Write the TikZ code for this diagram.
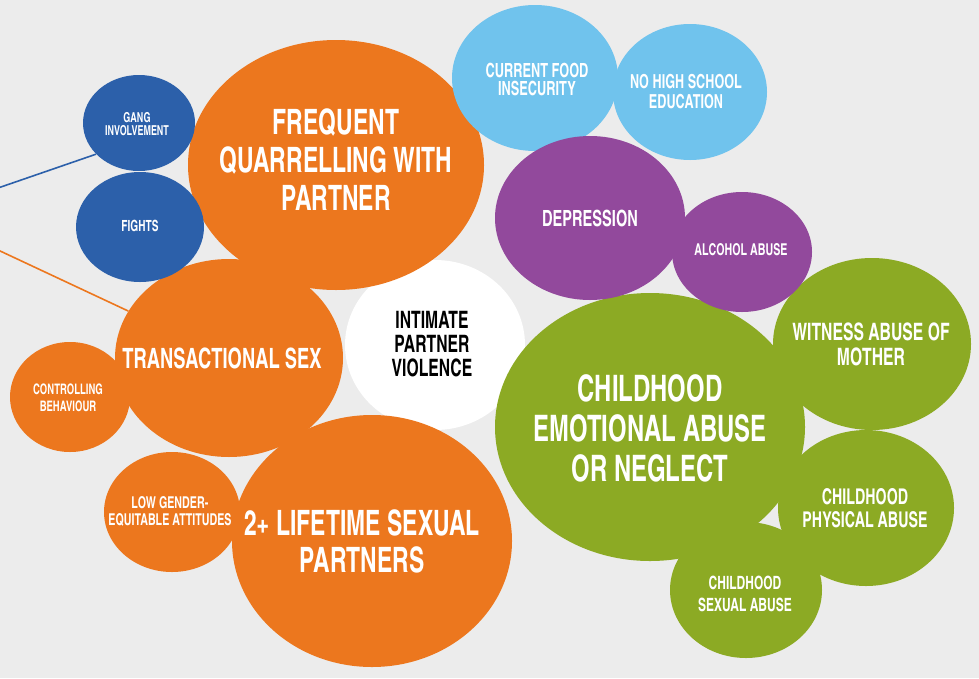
\documentclass[tikz,border=0pt]{standalone}
\usepackage{fontspec}
\usetikzlibrary{shapes.geometric}
\newfontfamily\cnfont{texgyreheroscn-bold.otf}[FakeStretch=0.8]
\newcommand\sz[2]{\cnfont\fontsize{#1}{#2}\selectfont}

\definecolor{bgGrey}{RGB}{236,236,236}
\definecolor{ipvOrange}{RGB}{236,119,30}
\definecolor{ipvNavy}{RGB}{44,96,170}
\definecolor{ipvSky}{RGB}{112,195,237}
\definecolor{ipvPurple}{RGB}{146,73,156}
\definecolor{ipvGreen}{RGB}{140,170,36}

\tikzset{
  bubble/.style={ellipse, fill=#1, inner sep=0pt},
  lbl/.style={text=white, align=center, inner sep=0pt},
}

\begin{document}
\begin{tikzpicture}[x=1pt, y=-1pt]
    % Fondo
    \fill[bgGrey] (0,0) rectangle (979,678);
    \useasboundingbox (0,0) rectangle (979,678);

    % Centro
    \node[bubble=white, minimum width=180pt, minimum height=170pt] (ipv) at (435,345) {};
    \node[lbl, text=black, font=\sz{24}{24}] (ipvT) at (432,344) {INTIMATE\\PARTNER\\VIOLENCE};

    % Burbujas naranjas
    \node[bubble=ipvOrange, minimum width=296pt, minimum height=250pt] (quarrel) at (336,165) {};
    \node[bubble=ipvOrange, minimum width=228pt, minimum height=198pt] (trans) at (229,358) {};
    \node[bubble=ipvOrange, minimum width=280pt, minimum height=252pt] (partners) at (372,541) {};
    \node[bubble=ipvOrange, minimum width=120pt, minimum height=110pt] (control) at (70,397) {};
    \node[bubble=ipvOrange, minimum width=136pt, minimum height=120pt] (gender) at (172,512) {};

    % Burbujas azules
    \node[bubble=ipvSky, minimum width=166pt, minimum height=146pt] (food) at (535,78) {};
    \node[bubble=ipvSky, minimum width=154pt, minimum height=136pt] (school) at (690,92) {};
    \node[bubble=ipvNavy, minimum width=112pt, minimum height=96pt] (gang) at (139,123) {};
    \node[bubble=ipvNavy, minimum width=128pt, minimum height=110pt] (fights) at (140,227) {};

    % Burbujas verdes y moradas
    \node[bubble=ipvGreen, minimum width=310pt, minimum height=268pt] (emotional) at (650,427) {};
    \node[bubble=ipvGreen, minimum width=198pt, minimum height=172pt] (witness) at (872,344) {};
    \node[bubble=ipvGreen, minimum width=176pt, minimum height=156pt] (physical) at (866,508) {};
    \node[bubble=ipvGreen, minimum width=152pt, minimum height=136pt] (sexual) at (746,590) {};
    \node[bubble=ipvPurple, minimum width=190pt, minimum height=164pt] (depression) at (590,218) {};
    \node[bubble=ipvPurple, minimum width=140pt, minimum height=120pt] (alcohol) at (742,252) {};

    % Etiquetas
    \node[lbl, font=\sz{35}{38}] (quarrelT) at (336,160) {FREQUENT\\QUARRELLING WITH\\PARTNER};
    \node[lbl, font=\sz{28}{28}] (transT) at (222,358) {TRANSACTIONAL SEX};
    \node[lbl, font=\sz{35}{37}] (partnersT) at (362,541) {2+ LIFETIME SEXUAL\\PARTNERS};
    \node[lbl, font=\sz{14.5}{17}] (controlT) at (68,398) {CONTROLLING\\BEHAVIOUR};
    \node[lbl, font=\sz{16.3}{17}] (genderT) at (170,511) {LOW GENDER-\\EQUITABLE ATTITUDES};
    \node[lbl, font=\sz{19.5}{18}] (foodT) at (537,79) {CURRENT FOOD\\INSECURITY};
    \node[lbl, font=\sz{19.3}{20}] (schoolT) at (686,92) {NO HIGH SCHOOL\\EDUCATION};
    \node[lbl, font=\sz{13.7}{13}] (gangT) at (137,124) {GANG\\INVOLVEMENT};
    \node[lbl, font=\sz{15.4}{15}] (fightsT) at (140,226) {FIGHTS};
    \node[lbl, font=\sz{36.5}{40}] (emotionalT) at (650,428) {CHILDHOOD\\EMOTIONAL ABUSE\\OR NEGLECT};
    \node[lbl, font=\sz{24}{25}] (witnessT) at (871,344) {WITNESS ABUSE OF\\MOTHER};
    \node[lbl, font=\sz{21.7}{23}] (physicalT) at (865,508) {CHILDHOOD\\PHYSICAL ABUSE};
    \node[lbl, font=\sz{18.3}{22}] (sexualT) at (745,594) {CHILDHOOD\\SEXUAL ABUSE};
    \node[lbl, font=\sz{22.3}{22}] (depressionT) at (590,218) {DEPRESSION};
    \node[lbl, font=\sz{16.3}{16}] (alcoholT) at (741,250) {ALCOHOL ABUSE};

    % Lineas al borde izquierdo
    \coordinate (navyEnd) at (-2,188);
    \coordinate (orangeEnd) at (-2,250);
    \draw[ipvNavy, line width=1.6pt] (navyEnd) -- (gang.216);
    \draw[ipvOrange, line width=1.6pt] (orangeEnd) -- (trans.155);
  \end{tikzpicture}
\end{document}
